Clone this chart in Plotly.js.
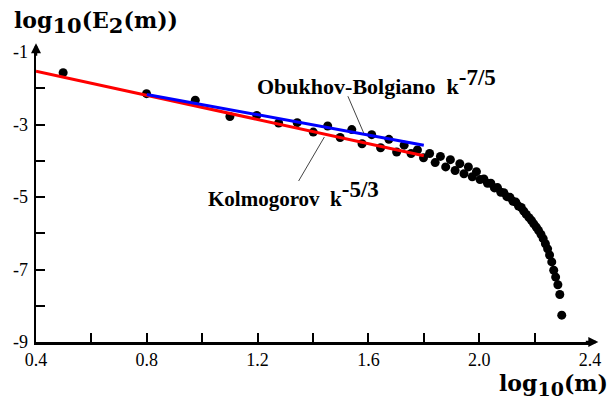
<!DOCTYPE html>
<html>
<head>
<meta charset="utf-8">
<script src="https://cdn.plot.ly/plotly-3.0.1.min.js"></script>
<style>html,body{margin:0;padding:0;background:#fff;}#chart{width:609px;height:400px;}</style>
</head>
<body>
<div id="chart"></div>
<script>
// Spectrum data points: log10(m) vs log10(E2(m))
const logM = [0.498, 0.799, 0.975, 1.100, 1.197, 1.276, 1.343, 1.401, 1.453, 1.498,
  1.540, 1.577, 1.612, 1.644, 1.674, 1.702, 1.729, 1.754, 1.777, 1.799,
  1.821, 1.841, 1.860, 1.879, 1.896, 1.913, 1.930, 1.945, 1.961, 1.975,
  1.990, 2.003, 2.017, 2.030, 2.042, 2.055, 2.066, 2.078, 2.089, 2.100,
  2.111, 2.122, 2.132, 2.142, 2.152, 2.161, 2.170, 2.180, 2.189, 2.197,
  2.206, 2.214, 2.223, 2.231, 2.239, 2.247, 2.254, 2.262, 2.269, 2.276,
  2.284, 2.291, 2.298];
const logE = [-1.57, -2.15, -2.33, -2.78, -2.75, -2.96, -2.95, -3.21, -3.04, -3.36,
  -3.14, -3.53, -3.28, -3.64, -3.41, -3.76, -3.57, -3.80, -3.70, -3.92,
  -3.80, -4.05, -3.88, -4.17, -3.97, -4.27, -4.08, -4.36, -4.17, -4.44,
  -4.30, -4.52, -4.50, -4.62, -4.62, -4.75, -4.74, -4.87, -4.88, -4.99,
  -5.01, -5.12, -5.14, -5.25, -5.29, -5.39, -5.48, -5.57, -5.65, -5.74,
  -5.83, -5.92, -6.03, -6.15, -6.29, -6.43, -6.60, -6.79, -7.02, -7.21,
  -7.42, -7.69, -8.26];

// Fitted power laws
const kolmX = [0.4, 1.8];
const kolmY = [-1.53, -3.86];
const obukX = [0.8, 1.8];
const obukY = [-2.17, -3.57];

// Axis ticks
const xTickVals = [0.4, 0.6, 0.8, 1.0, 1.2, 1.4, 1.6, 1.8, 2.0, 2.2, 2.4];
const xTickText = ['0.4', '', '0.8', '', '1.2', '', '1.6', '', '2.0', '', '2.4'];
const yTickVals = [-9, -8, -7, -6, -5, -4, -3, -2, -1];
const yTickText = ['-9', '', '-7', '', '-5', '', '-3', '', '-1'];

const serif = '"Liberation Serif", "Times New Roman", serif';

const traces = [
  {x: logM, y: logE, type: 'scatter', mode: 'markers',
   marker: {color: '#000', size: 9}, hoverinfo: 'skip'},
  {x: kolmX, y: kolmY, type: 'scatter', mode: 'lines',
   line: {color: '#ff0000', width: 3}},
  {x: obukX, y: obukY, type: 'scatter', mode: 'lines',
   line: {color: '#0000ff', width: 3}}
];

const supSpan = (t, s) => '<sup><span style="font-size:' + s + 'px">' + t + '</span></sup>';
const subSpan = (t, s) => '<sub><span style="font-size:' + s + 'px">' + t + '</span></sub>';

const layout = {
  width: 609, height: 400,
  margin: {l: 36, r: 19, t: 52, b: 58},
  paper_bgcolor: '#fff', plot_bgcolor: '#fff',
  showlegend: false,
  font: {family: serif, color: '#000', size: 18},
  xaxis: {
    range: [0.4, 2.4], tickmode: 'array', tickvals: xTickVals, ticktext: xTickText,
    ticks: 'inside', ticklen: 9, tickwidth: 2, tickcolor: '#000',
    showline: true, linewidth: 2.5, linecolor: '#000',
    showgrid: false, zeroline: false, ticklabelstandoff: 0,
    tickfont: {family: serif, size: 18, color: '#000'}
  },
  yaxis: {
    range: [-9, -1], tickmode: 'array', tickvals: yTickVals, ticktext: yTickText,
    ticks: 'inside', ticklen: 9, tickwidth: 2, tickcolor: '#000',
    showline: true, linewidth: 2.5, linecolor: '#000',
    showgrid: false, zeroline: false, ticklabelstandoff: 2,
    tickfont: {family: serif, size: 18, color: '#000'}
  },
  shapes: [
    {type: 'line', xref: 'x', yref: 'y', x0: 1.526, y0: -2.22, x1: 1.583, y1: -3.234,
     line: {color: '#444', width: 1}},
    {type: 'line', xref: 'x', yref: 'y', x0: 1.348, y0: -4.559, x1: 1.441, y1: -3.345,
     line: {color: '#444', width: 1}}
  ],
  annotations: [
    {xref: 'paper', yref: 'paper', x: 1.015, y: 0, ax: -14, ay: 0, text: '',
     showarrow: true, arrowhead: 2, arrowsize: 0.8, arrowwidth: 2.5, arrowcolor: '#000'},
    {xref: 'paper', yref: 'paper', x: 0, y: 1.03, ax: 0, ay: 14, text: '',
     showarrow: true, arrowhead: 2, arrowsize: 0.8, arrowwidth: 2.5, arrowcolor: '#000'},
    {xref: 'paper', yref: 'paper', x: -0.043, y: 1.10, xanchor: 'left', yanchor: 'middle',
     showarrow: false,
     text: '<b>log' + subSpan('10', 21) + '(E' + subSpan('2', 21) + '(m))</b>',
     font: {family: 'DejaVu Serif, serif', size: 22, color: '#000'}},
    {xref: 'paper', yref: 'paper', x: 1.036, y: -0.147, xanchor: 'right', yanchor: 'middle',
     showarrow: false,
     text: '<b>log' + subSpan('10', 19) + '(m)</b>',
     font: {family: 'DejaVu Serif, serif', size: 22, color: '#000'}},
    {xref: 'paper', yref: 'paper', x: (255 - 36) / 554, y: (342 - 82) / 290, xanchor: 'left', yanchor: 'middle',
     showarrow: false,
     text: '<b>Obukhov-Bolgiano  k' + supSpan('-7/5', 23) + '</b>',
     font: {family: serif, size: 22, color: '#000'}},
    {xref: 'paper', yref: 'paper', x: (206 - 36) / 554, y: (342 - 194) / 290, xanchor: 'left', yanchor: 'middle',
     showarrow: false,
     text: '<b>Kolmogorov  k' + supSpan('-5/3', 23) + '</b>',
     font: {family: serif, size: 21, color: '#000'}}
  ]
};

Plotly.newPlot('chart', traces, layout, {displayModeBar: false, staticPlot: true});
</script>
</body>
</html>
